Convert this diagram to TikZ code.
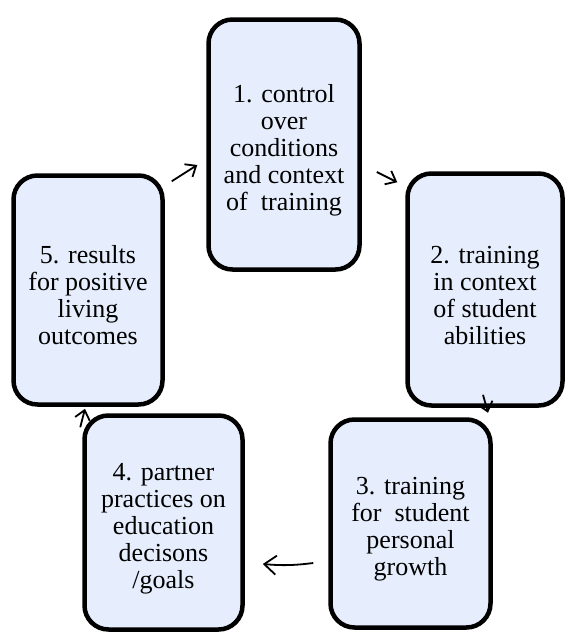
\documentclass[tikz,border=0pt]{standalone}
\usepackage{fontspec}
\setmainfont{Liberation Serif}
\usetikzlibrary{calc, arrows.meta, positioning}
\definecolor{boxfill}{RGB}{230,237,252}
\newcommand{\topgap}{\rule{0pt}{29pt}}
\begin{document}
\begin{tikzpicture}[x=1pt,y=-1pt,
		stage/.style={draw=black, line width=4.5pt, fill=boxfill, rounded corners=24pt, align=center, inner sep=2pt, font=\fontsize{26}{27}\selectfont},
		flow/.style={line width=1.8pt, -{Straight Barb[length=9pt,width=15pt]}}]
		\useasboundingbox (0,0) rectangle (566,632);
		\node [stage, minimum width=151, minimum height=250] at (284,144.5) (n1) {\topgap 1. control\\over\\conditions\\and context\\of\ \ training};
		\node [stage, minimum width=155, minimum height=232] at (485,289.5) (n2) {\topgap 2. training\\in context\\of student\\abilities};
		\node [stage, minimum width=160, minimum height=208] at (410.5,523.5) (n3) {\topgap 3. training\\for\ \ student\\personal\\growth};
		\node [stage, minimum width=158, minimum height=214] at (163.5,522.5) (n4) {\topgap 4. partner\\practices on\\education\\decisons\\/goals};
		\node [stage, minimum width=149, minimum height=229] at (88,290) (n5) {\topgap 5. results\\for positive\\living\\outcomes};
		\draw [flow] ($(n5.north east)+(7,8)$) -- ($(n1.west)+(-9,20.5)$);
		\draw [flow] ($(n1.east)+(15,27.5)$) -- ($(n2.north west)+(-8,11)$);
		\draw [flow] ($(n2.south)+(-2,-13)$) -- ($(n2.south)+(3,5)$);
		\draw [flow, -{Straight Barb[length=12pt,width=19pt]}] ($(n3.west)+(-15,39.5)$) to[bend left=6] ($(n4.east)+(18,41.5)$);
		\draw [flow] ($(n4.north west)+(-2,14)$) -- ($(n5.south)+(-3,2)$);
	\end{tikzpicture}
\end{document}
